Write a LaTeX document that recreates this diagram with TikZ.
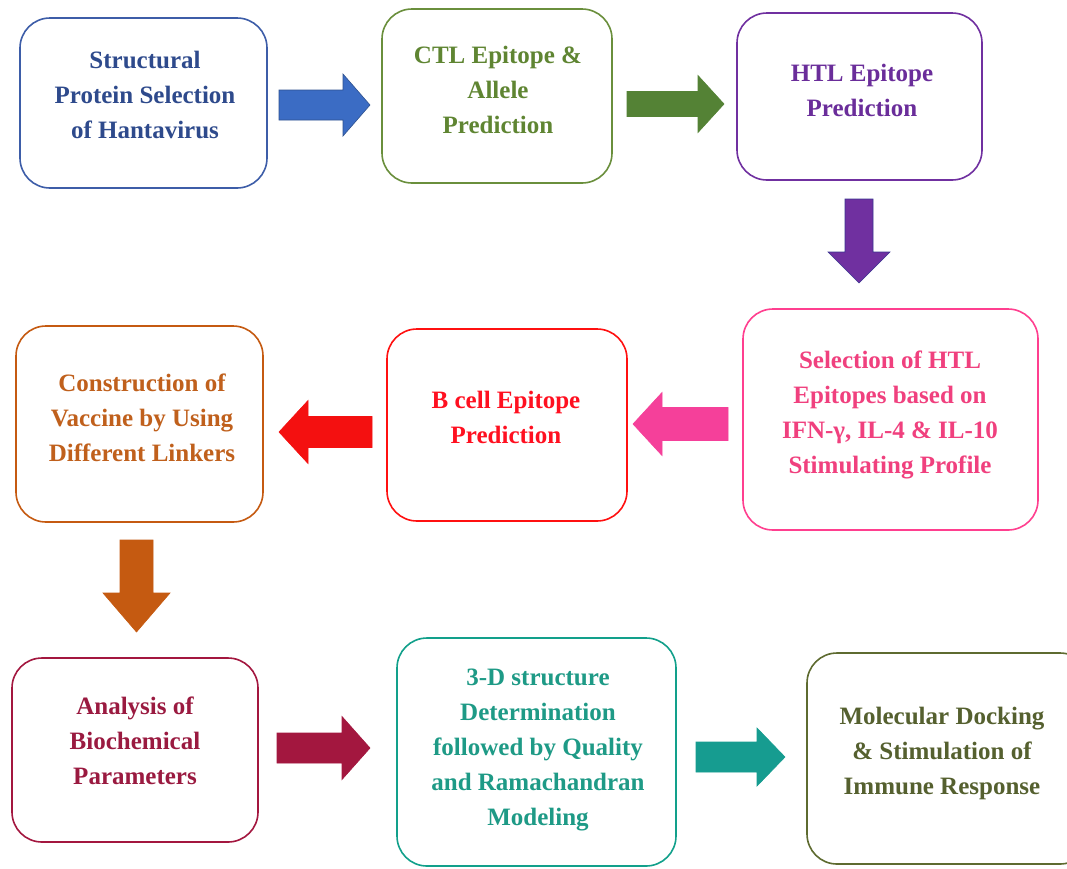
\documentclass[tikz,border=0pt]{standalone}
\usepackage{fontspec}
\setmainfont{Liberation Serif}
\usetikzlibrary{calc}
\definecolor{cBlue}{HTML}{3D5DA8}\definecolor{tBlue}{HTML}{2E4A8C}\definecolor{aBlue}{HTML}{3B6CC4}\definecolor{oBlue}{HTML}{2F528F}
\definecolor{cGreen}{HTML}{6A8F3C}\definecolor{tGreen}{HTML}{5F8532}\definecolor{aGreen}{HTML}{548235}
\definecolor{cPurple}{HTML}{7030A0}\definecolor{tPurple}{HTML}{6A2D9A}\definecolor{oPurple}{HTML}{3A3590}
\definecolor{cPink}{HTML}{FF3F8F}\definecolor{tPink}{HTML}{F0407E}\definecolor{aPink}{HTML}{F5409A}
\definecolor{cRed}{HTML}{FF1010}\definecolor{tRed}{HTML}{FF1020}\definecolor{aRed}{HTML}{F41010}
\definecolor{cOrange}{HTML}{C55A11}\definecolor{tOrange}{HTML}{C0601C}
\definecolor{cMaroon}{HTML}{A3173F}\definecolor{tMaroon}{HTML}{9A1A40}
\definecolor{cTeal}{HTML}{12A08B}\definecolor{tTeal}{HTML}{1E9A86}\definecolor{aTeal}{HTML}{169C90}
\definecolor{cOlive}{HTML}{5E6B30}\definecolor{tOlive}{HTML}{55602F}
\tikzset{
  stepbox/.style={draw=#1, line width=1.6pt, rounded corners=30pt, fill=white, inner sep=0pt},
  steptext/.style={text=#1, align=center, font=\bfseries\fontsize{25}{35}\selectfont, inner sep=0pt},
}
\newcommand\blkarrow[7]{%
  \coordinate (hb) at ($(#3)!#6!(#2)$);
  \filldraw[fill=#1, draw=#7, line width=0.6pt] ($(#2)!#4!90:(#3)$) -- ($(hb)!#4!-90:(#2)$) -- ($(hb)!#5!-90:(#2)$) -- (#3) -- ($(hb)!#5!90:(#2)$) -- ($(hb)!#4!90:(#2)$) -- ($(#2)!#4!-90:(#3)$) -- cycle;}
\begin{document}
\begin{tikzpicture}[x=1pt,y=-1pt]
\useasboundingbox (0,0) rectangle (1067,868);
\clip (0,0) rectangle (1067,868);
\fill[white] (0,0) rectangle (1067,868);
% boxes
\node[stepbox=cBlue, minimum width=247pt, minimum height=170pt] (b1) at (143.5,103) {};
\node[stepbox=cGreen, minimum width=230pt, minimum height=174pt] (b2) at (497,96) {};
\node[stepbox=cPurple, minimum width=245pt, minimum height=167pt] (b3) at (859.5,96.5) {};
\node[stepbox=cPink, minimum width=295pt, minimum height=221pt] (b4) at (890.5,419.5) {};
\node[stepbox=cRed, minimum width=240pt, minimum height=192pt] (b5) at (507,425) {};
\node[stepbox=cOrange, minimum width=247pt, minimum height=196pt] (b6) at (139.5,424) {};
\node[stepbox=cMaroon, minimum width=246pt, minimum height=184pt] (b7) at (135,750) {};
\node[stepbox=cTeal, minimum width=279pt, minimum height=228pt] (b8) at (536.5,752) {};
\node[stepbox=cOlive, minimum width=283pt, minimum height=211pt] (b9) at (948.5,758.5) {};
% texts
\node[steptext=tBlue] (t1) at (145,95) {Structural\\Protein Selection\\of Hantavirus};
\node[steptext=tGreen] (t2) at (498,90) {CTL Epitope \&\\Allele\\Prediction};
\node[steptext=tPurple] (t3) at (862,90.5) {HTL Epitope\\Prediction};
\node[steptext=tPink] (t4) at (890,415) {Selection of HTL\\Epitopes based on\\IFN-γ, IL-4 \& IL-10\\Stimulating Profile};
\node[steptext=tRed] (t5) at (506,417.5) {B cell Epitope\\Prediction};
\node[steptext=tOrange] (t6) at (142,418) {Construction of\\Vaccine by Using\\Different Linkers};
\node[steptext=tMaroon] (t7) at (135,741) {Analysis of\\Biochemical\\Parameters};
\node[steptext=tTeal] (t8) at (538,750) {3-D structure\\Determination\\followed by Quality\\and Ramachandran\\Modeling};
\node[steptext=tOlive] (t9) at (942,753) {Molecular Docking\\\& Stimulation of\\Immune Response};
% arrow end points
\coordinate (a1s) at (279,105); \coordinate (a1e) at (370,105);
\coordinate (a2s) at (627,104); \coordinate (a2e) at (724,104);
\coordinate (a3s) at (859,199); \coordinate (a3e) at (859,283);
\coordinate (a4s) at (728,424); \coordinate (a4e) at (633,424);
\coordinate (a5s) at (372,432); \coordinate (a5e) at (279,432);
\coordinate (a6s) at (136.5,540); \coordinate (a6e) at (136.5,632);
\coordinate (a7s) at (277,748); \coordinate (a7e) at (370,748);
\coordinate (a8s) at (696,757); \coordinate (a8e) at (785,757);
\blkarrow{aBlue}{a1s}{a1e}{15pt}{31pt}{27pt}{oBlue}
\blkarrow{aGreen}{a2s}{a2e}{12.5pt}{28.5pt}{26pt}{aGreen}
\blkarrow{cPurple}{a3s}{a3e}{14pt}{31pt}{31pt}{oPurple}
\blkarrow{aPink}{a4s}{a4e}{16.5pt}{31.5pt}{29pt}{aPink}
\blkarrow{aRed}{a5s}{a5e}{15.5pt}{31.5pt}{29pt}{aRed}
\blkarrow{cOrange}{a6s}{a6e}{16.5pt}{33.5pt}{39pt}{cOrange}
\blkarrow{cMaroon}{a7s}{a7e}{15pt}{31.5pt}{28pt}{cMaroon}
\blkarrow{aTeal}{a8s}{a8e}{15pt}{29pt}{28pt}{aTeal}
\end{tikzpicture}
\end{document}
